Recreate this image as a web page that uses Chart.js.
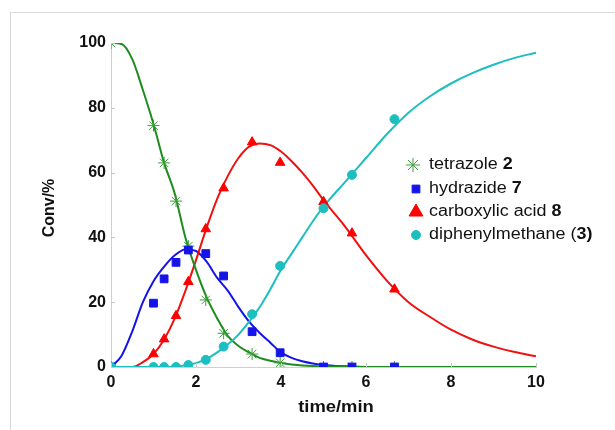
<!DOCTYPE html>
<html>
<head>
<meta charset="utf-8">
<script src="https://cdn.jsdelivr.net/npm/chart.js@4"></script>
<style>
  html, body { margin: 0; padding: 0; background: #fff; }
  #wrap { position: relative; width: 615px; height: 430px; }
  #frame { position: absolute; left: 10px; top: 12px; right: 0; bottom: 0;
           border-left: 1px solid #d9d9d9; border-top: 1px solid #d9d9d9; }
  canvas { position: absolute; left: 0; top: 0; }
</style>
</head>
<body>
<div id="wrap">
  <div id="frame"></div>
  <canvas id="c" width="615" height="430"></canvas>
</div>
<script>
// ---- measured samples ----
const sampleTime = [0, 1.0, 1.25, 1.53, 1.82, 2.23, 2.65, 3.32, 3.98, 5.0, 5.67, 6.67];
const tetrazole      = [100, 74.5, 63.0, 51.2, 37.3, 20.7, 10.4, 4.0, 1.3, 0, 0, 0];
const hydrazide      = [0, 19.7, 27.2, 32.3, 36.1, 35.0, 28.1, 10.9, 4.4, 0, 0, 0];
const carboxylicAcid = [0, 4.0, 8.6, 15.8, 26.3, 42.6, 55.2, 69.4, 63.1, 51.0, 41.3, 24.0];
const diphenylmethane= [0, 0, 0, 0, 0.6, 2.2, 6.3, 16.3, 31.2, 49.0, 59.3, 76.5];

// ---- fitted curves ----
const curveTime = [0,0.25,0.5,0.75,1,1.25,1.5,1.75,2,2.25,2.5,2.75,3,3.25,3.5,3.75,4,4.25,4.5,4.75,5,5.5,6,6.5,7,7.5,8,8.5,9,9.5,10];
const tetrazoleFit  = [100,99.7,95,85.5,75,63,53.5,40,30,21.5,15,9.5,6.5,4.5,2.8,1.9,1.2,0.8,0.5,0.3,0.2,0.1,0,0,0,0,0,0,0,0,0];
const hydrazideFit  = [0,3.5,11,20,26.5,31,34.5,36.3,35.8,32.5,27.5,23.5,18.5,14,10.5,7.5,4.5,2.8,1.8,1.1,0.6,0.2,0,0,0,0,0,0,0,0,0];
const carboxylicFit = [0,0,0,1.5,4,8.5,15,23.5,33,43,52,59,64.5,68,69,68.5,66.5,63.5,60,56,51.5,43.5,34.5,26.5,20,15.5,11.5,8.5,6.3,4.6,3.3];
const diphenylFit   = [0,0,0,0,0,0,0.1,0.5,1.2,2.5,4.5,7,10,14,18.5,24,30,35,40,45,49.5,57,64.5,72,78.5,83.5,87.5,90.7,93.3,95.4,97];

const xTicks = [0, 2, 4, 6, 8, 10];
const yTicks = [0, 20, 40, 60, 80, 100];

const legendItems = [
  { name: 'tetrazole ', num: '2', tail: '' },
  { name: 'hydrazide ', num: '7', tail: '' },
  { name: 'carboxylic acid ', num: '8', tail: '' },
  { name: 'diphenylmethane (', num: '3', tail: ')' }
];

const cGreen = '#1e8c1e', cGreenM = '#3a9f3a';
const cBlue = '#1414e8';
const cRed = '#f01010';
const cCyan = '#1cbfbf';

const pts = (xs, ys) => xs.map((x, i) => ({ x: x, y: ys[i] }));

function markerSet(label, ys, color, style, r) {
  return { type: 'scatter', label, data: pts(sampleTime, ys), showLine: false,
    pointStyle: style, pointRadius: r, pointHoverRadius: r,
    pointBackgroundColor: color, pointBorderColor: color, pointBorderWidth: 1 };
}
function curveSet(ys, color) {
  return { type: 'line', data: pts(curveTime, ys), borderColor: color, borderWidth: 2,
    pointRadius: 0, fill: false, cubicInterpolationMode: 'monotone' };
}

const decor = {
  id: 'decor',
  afterDraw(chart) {
    const ctx = chart.ctx, xs = chart.scales.x, ys = chart.scales.y;
    ctx.save();
    // inner tick marks
    ctx.strokeStyle = '#c8c8c8'; ctx.lineWidth = 1;
    yTicks.forEach(v => { const y = Math.round(ys.getPixelForValue(v)) + 0.5;
      ctx.beginPath(); ctx.moveTo(xs.left, y); ctx.lineTo(xs.left + 4, y); ctx.stroke(); });
    xTicks.forEach(v => { const x = Math.round(xs.getPixelForValue(v)) + 0.5;
      ctx.beginPath(); ctx.moveTo(x, ys.bottom); ctx.lineTo(x, ys.bottom - 4); ctx.stroke(); });
    // axis titles
    ctx.fillStyle = '#111';
    ctx.font = 'bold 16px "Liberation Sans", Arial, sans-serif';
    ctx.textAlign = 'center'; ctx.textBaseline = 'middle';
    ctx.save(); ctx.translate(50, 208); ctx.rotate(-Math.PI / 2); ctx.fillText('Conv/%', 0, 0); ctx.restore();
    ctx.save(); ctx.translate(336, 408); ctx.scale(1.15, 1); ctx.fillText('time/min', 0, 0); ctx.restore();
    // legend
    const rows = [165, 189, 212, 235];
    const styles = [
      { s: 'star', c: cGreenM, r: 7, x: 413 },
      { s: 'rect', c: cBlue, r: 5.5, x: 416 },
      { s: 'triangle', c: '#ff0000', r: 8, x: 416 },
      { s: 'circle', c: cCyan, r: 4.5, x: 416 }
    ];
    legendItems.forEach((it, i) => {
      const st = styles[i], y = rows[i];
      ctx.fillStyle = st.c; ctx.strokeStyle = st.c;
      Chart.helpers.drawPoint(ctx, { pointStyle: st.s, radius: st.r, rotation: 0, borderWidth: 1.2 }, st.x, y);
      ctx.save();
      ctx.translate(429, y); ctx.scale(1.12, 1);
      ctx.textAlign = 'left'; ctx.textBaseline = 'middle'; ctx.fillStyle = '#111';
      let x = 0;
      ctx.font = '16px "Liberation Sans", Arial, sans-serif';
      ctx.fillText(it.name, x, 0); x += ctx.measureText(it.name).width;
      ctx.font = 'bold 16px "Liberation Sans", Arial, sans-serif';
      ctx.fillText(it.num, x, 0); x += ctx.measureText(it.num).width;
      if (it.tail) { ctx.fillText(it.tail, x, 0); }
      ctx.restore();
    });
    ctx.restore();
  }
};

new Chart(document.getElementById('c'), {
  data: {
    datasets: [
      markerSet('diphenylmethane (3)', diphenylmethane, cCyan, 'circle', 4.5),
      markerSet('hydrazide 7', hydrazide, cBlue, 'rect', 5.5),
      markerSet('carboxylic acid 8', carboxylicAcid, '#ff0000', 'triangle', 5.5),
      markerSet('tetrazole 2', tetrazole, cGreenM, 'star', 6),
      curveSet(diphenylFit, cCyan),
      curveSet(tetrazoleFit, cGreen),
      curveSet(carboxylicFit, cRed),
      curveSet(hydrazideFit, cBlue)
    ]
  },
  options: {
    responsive: false, animation: false, devicePixelRatio: 1,
    layout: { padding: { left: 0, top: 43, right: 79, bottom: 0 } },
    plugins: { legend: { display: false }, tooltip: { enabled: false }, title: { display: false } },
    scales: {
      x: { type: 'linear', min: 0, max: 10,
        afterFit(s) { s.height = 63; },
        afterBuildTicks(s) { s.ticks = xTicks.map(v => ({ value: v })); },
        border: { display: true, color: '#cfcfcf', width: 1 },
        grid: { display: true, drawOnChartArea: false, drawTicks: false },
        ticks: { padding: 6, color: '#111', font: { family: '"Liberation Sans", Arial, sans-serif', size: 16, weight: 'bold' } } },
      y: { type: 'linear', min: 0, max: 100,
        afterFit(s) { s.width = 111; },
        afterBuildTicks(s) { s.ticks = yTicks.map(v => ({ value: v })); },
        border: { display: true, color: '#cfcfcf', width: 1 },
        grid: { display: true, drawOnChartArea: false, drawTicks: false },
        ticks: { padding: 5, color: '#111', font: { family: '"Liberation Sans", Arial, sans-serif', size: 16, weight: 'bold' } } }
    }
  },
  plugins: [decor]
});
</script>
</body>
</html>
